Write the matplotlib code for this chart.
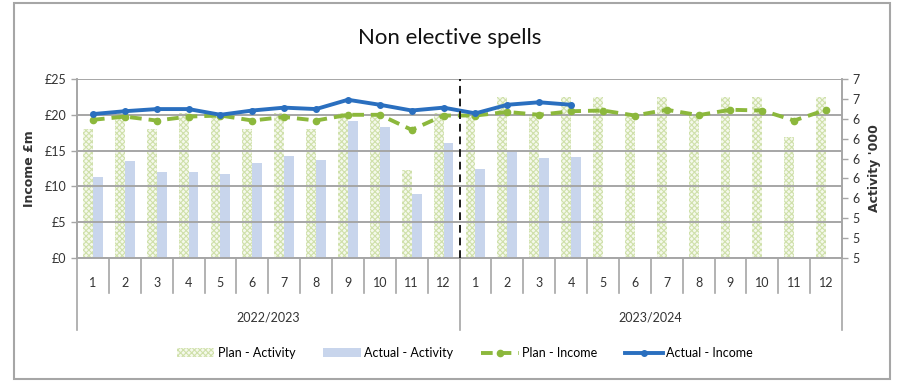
import matplotlib
matplotlib.use("Agg")
import matplotlib.pyplot as plt
import numpy as np
from matplotlib.patches import Rectangle
from matplotlib.lines import Line2D
from matplotlib.patches import Patch
import matplotlib.transforms as mtransforms

plt.rcParams['font.family'] = ['Liberation Sans Narrow', 'Lato', 'DejaVu Sans']
plt.rcParams['hatch.linewidth'] = 0.8

# ---- data ----
years = ["2022/2023", "2023/2024"]
months = [str(m) for m in range(1, 13)]

# activity in thousands (right axis)
plan_activity = [6.30, 6.46, 6.30, 6.46, 6.46, 6.30, 6.46, 6.30, 6.46, 6.46, 5.88, 6.46,
                 6.44, 6.62, 6.44, 6.62, 6.62, 6.44, 6.62, 6.44, 6.62, 6.62, 6.22, 6.62]
actual_activity = [5.81, 5.98, 5.86, 5.86, 5.84, 5.96, 6.03, 5.99, 6.38, 6.32, 5.64, 6.16,
                   5.89, 6.07, 6.01, 6.02]

# income in £m (left axis)
plan_income = [19.3, 19.75, 19.2, 19.75, 19.9, 19.2, 19.7, 19.2, 20.0, 20.0, 17.9, 19.9,
               19.9, 20.4, 20.0, 20.5, 20.6, 19.9, 20.7, 19.95, 20.7, 20.6, 19.2, 20.7]
actual_income = [20.1, 20.5, 20.8, 20.8, 20.0, 20.6, 21.0, 20.8, 22.1, 21.4, 20.6, 21.0,
                 20.2, 21.4, 21.75, 21.4]

income_ticks = [0, 5, 10, 15, 20, 25]
activity_ticks = [5.0, 5.2, 5.4, 5.6, 5.8, 6.0, 6.2, 6.4, 6.6, 6.8]

PLAN_BAR_FACE = "#f5f9ec"
PLAN_BAR_HATCH = "#cfe0aa"
ACTUAL_BAR = "#c8d5ec"
PLAN_LINE = "#8cb83c"
ACTUAL_LINE = "#2a6fbf"
GREY = "#a6a6a6"
TEXT = "#333333"

# ---- figure ----
W, H = 898, 382
fig = plt.figure(figsize=(W / 100, H / 100), dpi=100)
fig.patch.set_facecolor("white")

# outer chart border
fig.patches.append(Rectangle((14 / W, 3 / H), (890 - 14) / W, (379 - 3) / H,
                             transform=fig.transFigure, fill=False,
                             edgecolor=GREY, linewidth=1.5))

x0, x1, y_top, y_bot = 77, 842, 79, 258
ax = fig.add_axes([x0 / W, 1 - y_bot / H, (x1 - x0) / W, (y_bot - y_top) / H])
ax_act = ax.twinx()
ax.set_zorder(ax_act.get_zorder() + 1)
ax.patch.set_visible(False)

n = len(plan_activity)
x = np.arange(n)
bw = 0.31

# activity bars
ax_act.bar(x[:len(plan_activity)] - bw / 2, plan_activity, width=bw,
           facecolor=PLAN_BAR_FACE, edgecolor=PLAN_BAR_HATCH, hatch="xxxxxx", linewidth=0)
ax_act.bar(x[:len(actual_activity)] + bw / 2, actual_activity, width=bw,
           color=ACTUAL_BAR, linewidth=0)
ax_act.set_ylim(activity_ticks[0], activity_ticks[-1])
ax_act.set_yticks(activity_ticks)
ax_act.set_yticklabels(["%.0f" % v for v in activity_ticks])

# income lines
ax.plot(x[:len(plan_income)], plan_income, color=PLAN_LINE, lw=2.8,
        linestyle=(0, (3, 1.8)), marker="o", markersize=4.5, zorder=4)
ax.plot(x[:len(actual_income)], actual_income, color=ACTUAL_LINE, lw=2.8,
        marker="o", markersize=4, zorder=5)

ax.set_xlim(-0.5, n - 0.5)
ax.set_ylim(income_ticks[0], income_ticks[-1])
ax.set_yticks(income_ticks)
ax.set_yticklabels(["£%d" % v for v in income_ticks])
ax.set_xticks([])
ax.grid(axis="y", color=GREY, linewidth=1.4)
ax.set_axisbelow(False)

# year divider
ax.axvline(11.5, color="#1a1a1a", linestyle=(0, (4, 2.5)), linewidth=1.4, zorder=6)

for a in (ax, ax_act):
    a.spines["top"].set_visible(False)
    for side in ("left", "right", "bottom"):
        a.spines[side].set_color(GREY)
        a.spines[side].set_linewidth(1.2)
    a.tick_params(axis="y", colors=GREY, labelcolor=TEXT,
                  labelsize=9, length=4, width=1.0)

ax.set_ylabel("Income £m", fontsize=9, fontweight="bold", color=TEXT,
              family=["DejaVu Sans"], labelpad=6)
ax_act.set_ylabel("Activity '000", fontsize=9, fontweight="bold", color=TEXT,
                  family=["DejaVu Sans"], labelpad=6)

# two-level category axis
trans = mtransforms.blended_transform_factory(ax.transData, ax.transAxes)
ph = (y_bot - y_top)
def ay(py):
    return (y_bot - py) / ph

for i in range(n):
    ax.text(x[i], ay(283), months[i % 12], transform=trans, ha="center", va="center",
            fontsize=9, color=TEXT)
for i in range(1, n):
    if i % 12 == 0:
        continue
    ax.plot([i - 0.5, i - 0.5], [0, ay(293)], transform=trans, color=GREY,
            lw=1.2, clip_on=False)
for b in (-0.5, 11.5, n - 0.5):
    ax.plot([b, b], [0, ay(330)], transform=trans, color=GREY,
            lw=1.2, clip_on=False)
for k, yr in enumerate(years):
    ax.text(5.5 + 12 * k, ay(318), yr, transform=trans, ha="center", va="center",
            fontsize=9, color=TEXT)

fig.text(450 / W, 1 - 38 / H, "Non elective spells", ha="center", va="center",
         fontsize=16, color="#111111")

handles = [
    Patch(facecolor=PLAN_BAR_FACE, edgecolor=PLAN_BAR_HATCH, hatch="xxxxxx", linewidth=0),
    Patch(facecolor=ACTUAL_BAR, linewidth=0),
    Line2D([], [], color=PLAN_LINE, lw=2.8, linestyle=(0, (3, 1.8)), marker="o", markersize=4.5),
    Line2D([], [], color=ACTUAL_LINE, lw=2.8, marker="o", markersize=4),
]
labels = ["Plan - Activity", "Actual - Activity", "Plan - Income", "Actual - Income"]
fig.legend(handles, labels, loc="center", bbox_to_anchor=(465 / W, 1 - 353 / H),
           ncol=4, frameon=False, fontsize=9, handlelength=3.0, columnspacing=2.2,
           handletextpad=0.3)

fig.savefig("out.png", dpi=100, facecolor="white")
